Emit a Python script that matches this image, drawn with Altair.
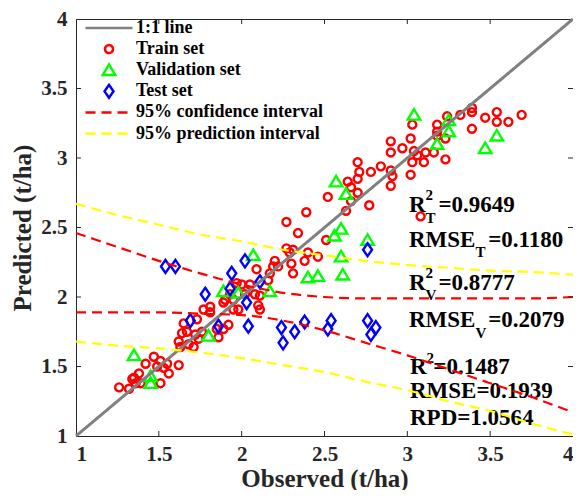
import altair as alt
import pandas as pd

# ---------------- data ----------------
train_obs = [1.26, 1.32, 1.35, 1.38, 1.36, 1.39, 1.34, 1.42, 1.47, 1.51, 1.49, 1.55, 1.56, 1.62, 1.51, 1.53,
             1.62, 1.63, 1.64, 1.68, 1.71, 1.72, 1.76, 1.74, 1.86, 1.89, 1.67, 1.73, 1.77, 1.81, 1.81, 1.65,
             1.92, 1.85, 1.90, 1.95, 1.98, 1.95, 1.97, 2.00, 2.05, 2.02, 2.08, 2.11, 2.10, 2.11, 2.16, 2.17,
             2.19, 2.20, 2.22, 2.30, 2.31, 2.29, 2.38, 2.09, 2.27, 2.31, 2.40, 2.46, 2.51, 1.93, 1.89, 2.27,
             2.39, 2.34, 2.52, 2.66, 2.63, 2.77, 2.64, 2.70, 2.70, 2.70, 2.71, 2.78, 2.84, 2.90, 2.91, 2.90,
             2.90, 2.90, 2.97, 3.02, 3.04, 3.03, 3.02, 3.10, 3.11, 3.06, 3.16, 3.23, 3.03, 3.18, 3.18, 3.18,
             3.23, 3.24, 3.32, 3.39, 3.39, 3.39, 3.47, 3.54, 3.54, 3.61, 3.69, 3.08, 2.66]
train_pred = [1.35, 1.34, 1.42, 1.45, 1.38, 1.38, 1.41, 1.52, 1.57, 1.54, 1.50, 1.52, 1.45, 1.51, 1.38, 1.49,
              1.68, 1.64, 1.74, 1.66, 1.64, 1.73, 1.75, 1.70, 1.71, 1.77, 1.75, 1.84, 1.91, 1.93, 1.89, 1.81,
              1.80, 1.77, 1.98, 1.91, 1.91, 1.98, 2.10, 2.09, 2.09, 2.02, 2.02, 2.01, 1.94, 1.91, 2.12, 2.17,
              2.22, 2.26, 2.22, 2.24, 2.17, 2.32, 2.26, 2.20, 2.35, 2.34, 2.32, 2.29, 2.41, 2.02, 1.96, 2.54,
              2.61, 2.46, 2.72, 2.69, 2.62, 2.66, 2.83, 2.85, 2.75, 2.97, 2.90, 2.90, 2.94, 2.91, 2.87, 2.80,
              3.12, 3.04, 3.07, 3.14, 3.05, 2.97, 2.88, 2.97, 3.04, 3.02, 3.04, 2.99, 3.24, 3.24, 3.19, 3.16,
              3.14, 3.30, 3.31, 3.36, 3.33, 3.21, 3.29, 3.33, 3.26, 3.26, 3.31, 2.58, 2.79]

val_obs = [1.35, 1.45, 1.45, 1.80, 1.89, 1.98, 2.07, 2.17, 2.40, 2.46, 2.56, 2.60, 2.60, 2.61, 2.76, 2.57,
           2.63, 3.04, 3.25, 3.25, 3.18, 3.47, 3.54]
val_pred = [1.58, 1.43, 1.38, 1.72, 2.04, 2.03, 2.30, 2.04, 2.14, 2.15, 2.44, 2.49, 2.29, 2.16, 2.41, 2.83,
            2.74, 3.31, 3.27, 3.19, 3.10, 3.07, 3.16]

test_obs = [1.54, 1.60, 2.02, 1.94, 1.78, 1.93, 2.11, 2.03, 1.69, 1.86, 2.04, 2.24, 2.32, 2.38, 2.25, 2.52,
            2.54, 2.76, 2.81, 2.78, 2.76]
test_pred = [2.22, 2.22, 2.26, 2.17, 2.02, 2.06, 2.11, 1.96, 1.83, 1.79, 1.79, 1.78, 1.75, 1.82, 1.67, 1.77,
             1.83, 1.83, 1.78, 1.73, 2.34]

band_x = [1.0, 1.25, 1.5, 1.75, 2.0, 2.25, 2.5, 2.75, 3.0, 3.25, 3.5, 3.75, 4.0]
ci_upper = [2.46, 2.36, 2.26, 2.17, 2.09, 2.03, 2.00, 1.99, 1.99, 1.99, 1.99, 1.99, 2.00]
ci_lower = [1.89, 1.89, 1.89, 1.88, 1.87, 1.83, 1.76, 1.67, 1.58, 1.48, 1.38, 1.28, 1.17]
pi_upper = [2.67, 2.59, 2.52, 2.45, 2.40, 2.34, 2.30, 2.26, 2.23, 2.21, 2.19, 2.18, 2.16]
pi_lower = [1.68, 1.65, 1.63, 1.60, 1.56, 1.51, 1.46, 1.39, 1.33, 1.25, 1.18, 1.09, 1.01]

diag = [1.0, 4.0]
tick_vals = [1.5, 2.0, 2.5, 3.0, 3.5]
axis_vals = [1.0, 1.5, 2.0, 2.5, 3.0, 3.5, 4.0]

series_names = ["1:1 line", "Train set", "Validation set", "Test set",
                "95% confidence interval", "95% prediction interval"]

# ---------------- styles ----------------
FONT = "Liberation Serif"
INK = "#262626"
series_colors = ["#808080", "#ff0000", "#00ff00", "#0000ff", "#ff0000", "#ffff00"]
CIRCLE = "M0.17,0A0.17,0.17,0,1,1,-0.17,0A0.17,0.17,0,1,1,0.17,0Z"
TRIANGLE = "M0,-0.245L0.265,0.2L-0.265,0.2Z"
DIAMOND = "M0,-0.275L0.19,0L0,0.275L-0.19,0Z"
series_shapes = ["stroke", CIRCLE, TRIANGLE, DIAMOND, "stroke", "stroke"]
series_dashes = [[1, 0], [1, 0], [1, 0], [1, 0], [10, 6], [10, 6]]
SYM = 2209

W, H = 497, 417

# ---------------- tables ----------------
pts = pd.DataFrame({
    "obs": train_obs + val_obs + test_obs,
    "pred": train_pred + val_pred + test_pred,
    "series": ["Train set"] * len(train_obs) + ["Validation set"] * len(val_obs) + ["Test set"] * len(test_obs),
})
diag_df = pd.DataFrame({"obs": diag, "pred": diag, "series": "1:1 line"})
ci_df = pd.concat([
    pd.DataFrame({"obs": band_x, "pred": ci_upper, "part": "upper"}),
    pd.DataFrame({"obs": band_x, "pred": ci_lower, "part": "lower"}),
])
ci_df["series"] = "95% confidence interval"
pi_df = pd.concat([
    pd.DataFrame({"obs": band_x, "pred": pi_upper, "part": "upper"}),
    pd.DataFrame({"obs": band_x, "pred": pi_lower, "part": "lower"}),
])
pi_df["series"] = "95% prediction interval"

xscale = alt.Scale(domain=[1, 4], nice=False, zero=False)
yscale = alt.Scale(domain=[1, 4], nice=False, zero=False)

xaxis = alt.Axis(values=axis_vals, format="~g", title="Observed (t/ha)", grid=False, ticks=False,
                 labelPadding=7, titlePadding=2, labelFlush=True)
yaxis = alt.Axis(values=axis_vals, format="~g", title="Predicted (t/ha)", grid=False, ticks=False,
                 labelPadding=9, titlePadding=5, labelFlush=False)

leg = alt.Legend(title=None, orient="none", legendX=5, legendY=0, padding=0,
                 labelFont=FONT, labelFontWeight="bold", labelFontSize=18, labelColor="black",
                 symbolSize=SYM, symbolStrokeWidth=2.5, clipHeight=18, rowPadding=3.1,
                 symbolOffset=3, labelOffset=2, symbolOpacity=1, labelLimit=400)

color = alt.Color("series:N", scale=alt.Scale(domain=series_names, range=series_colors), legend=leg)
shape = alt.Shape("series:N", scale=alt.Scale(domain=series_names, range=series_shapes), legend=leg)
dash = alt.StrokeDash("series:N", scale=alt.Scale(domain=series_names, range=series_dashes), legend=leg)

X = alt.X("obs:Q", scale=xscale, axis=xaxis)
Y = alt.Y("pred:Q", scale=yscale, axis=yaxis)

# ---------------- annotations ----------------
ann = [
    # text, x, y, size
    ("R", 3.010, 2.615, 23), ("2", 3.109, 2.698, 15), ("T", 3.109, 2.535, 15), ("=0.9649", 3.188, 2.615, 23),
    ("RMSE", 3.010, 2.358, 23), ("T", 3.412, 2.288, 15), ("=0.1180", 3.488, 2.358, 23),
    ("R", 3.010, 2.052, 23), ("2", 3.109, 2.136, 15), ("V", 3.109, 1.976, 15), ("=0.8777", 3.188, 2.052, 23),
    ("RMSE", 3.010, 1.785, 23), ("V", 3.412, 1.708, 15), ("=0.2079", 3.488, 1.785, 23),
    ("R", 3.016, 1.446, 23), ("2", 3.115, 1.524, 15), ("=0.1487", 3.157, 1.446, 23),
    ("RMSE=0.1939", 3.016, 1.276, 23),
    ("RPD=1.0564", 3.016, 1.078, 23),
]
text_layers = [
    alt.Chart().mark_text(text=t, font=FONT, fontWeight="bold", fontSize=s, align="left",
                          baseline="alphabetic", color="black")
    .encode(x=alt.datum(tx, scale=xscale), y=alt.datum(ty, scale=yscale))
    for (t, tx, ty, s) in ann
]

points = alt.Chart(pts).mark_point(filled=False, size=SYM, strokeWidth=2.4, opacity=1).encode(
    x=X, y=Y, color=color, shape=shape)

diag_line = alt.Chart(diag_df).mark_line(strokeWidth=3).encode(
    x=X, y=Y, color=color, strokeDash=dash)

ci_lines = alt.Chart(ci_df).mark_line(strokeWidth=2.2, interpolate="monotone").encode(
    x=X, y=Y, color=color, strokeDash=dash, detail="part:N")
pi_lines = alt.Chart(pi_df).mark_line(strokeWidth=2.2, interpolate="monotone").encode(
    x=X, y=Y, color=color, strokeDash=dash, detail="part:N")

xt = pd.DataFrame({"obs": tick_vals})
yt = pd.DataFrame({"pred": tick_vals})
tick_bottom = alt.Chart(xt).mark_rule(color=INK, strokeWidth=1).encode(
    x=alt.X("obs:Q", scale=xscale), y=alt.value(H), y2=alt.value(H - 5))
tick_top = alt.Chart(xt).mark_rule(color=INK, strokeWidth=1).encode(
    x=alt.X("obs:Q", scale=xscale), y=alt.value(0), y2=alt.value(5))
tick_left = alt.Chart(yt).mark_rule(color=INK, strokeWidth=1).encode(
    y=alt.Y("pred:Q", scale=yscale), x=alt.value(0), x2=alt.value(5))
tick_right = alt.Chart(yt).mark_rule(color=INK, strokeWidth=1).encode(
    y=alt.Y("pred:Q", scale=yscale), x=alt.value(W), x2=alt.value(W - 5))

chart = alt.layer(
    *text_layers, points, diag_line, ci_lines, pi_lines,
    tick_bottom, tick_top, tick_left, tick_right,
).properties(
    width=W, height=H,
    padding={"left": 68, "top": 11, "right": 0, "bottom": 54},
    autosize=alt.AutoSizeParams(type="none"),
    background="white",
).configure_view(
    stroke=INK, strokeWidth=1
).configure_axis(
    labelFont=FONT, labelFontWeight="bold", labelFontSize=21, labelColor=INK,
    titleFont=FONT, titleFontWeight="bold", titleFontSize=25, titleColor=INK,
    domainColor=INK, domainWidth=1,
)

chart.save("out.html", embed_options={"renderer": "svg", "actions": False})
